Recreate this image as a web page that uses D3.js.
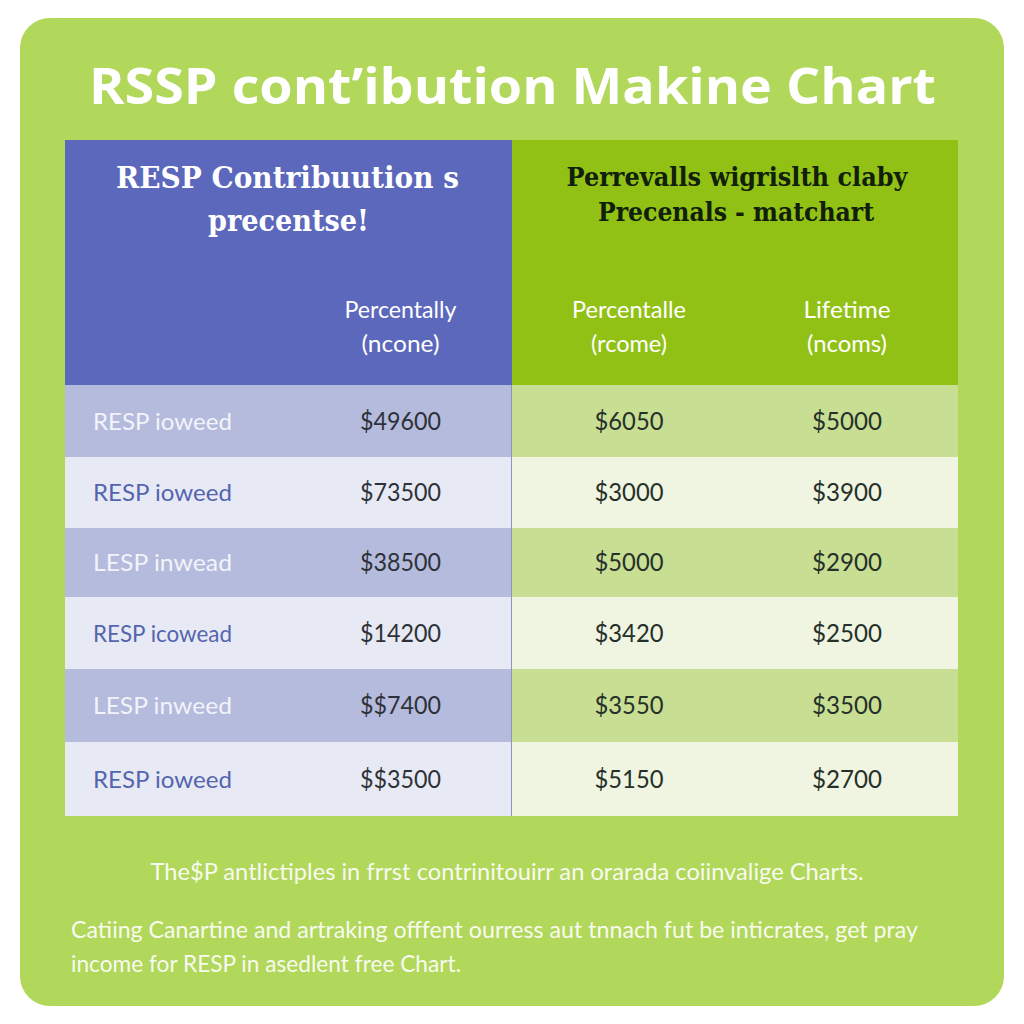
<!DOCTYPE html>
<html><head><meta charset="utf-8">
<script src="https://cdn.jsdelivr.net/npm/d3@7/dist/d3.min.js"></script>
<style>html,body{margin:0;padding:0;background:#fff}svg{display:block}</style>
</head><body><svg id="c" width="1024" height="1024"></svg>
<script>
const chartTitle = "RSSP cont\u2019ibution Makine Chart";
const leftHeader = ["RESP Contribuution s", "precentse!"];
const rightHeader = ["Perrevalls wigrislth claby", "Precenals - matchart"];
const columnKeys = ["Percentally", "Percentalle", "Lifetime"];
const columnHeads = [["Percentally", "(ncone)"], ["Percentalle", "(rcome)"], ["Lifetime", "(ncoms)"]];
const rowLabels = ["RESP ioweed", "RESP ioweed", "LESP inwead", "RESP icowead", "LESP inweed", "RESP ioweed"];
const colPercentally = ["$49600", "$73500", "$38500", "$14200", "$$7400", "$$3500"];
const colPercentalle = ["$6050", "$3000", "$5000", "$3420", "$3550", "$5150"];
const colLifetime = ["$5000", "$3900", "$2900", "$2500", "$3500", "$2700"];
const footNote = "The$P antlictiples in frrst contrinitouirr an orarada coiinvalige Charts.";
const footLines = ["Catiing Canartine and artraking offfent ourress aut tnnach fut be inticrates, get pray", "income for RESP in asedlent free Chart."];

const svg = d3.select("#c");
const body = "Lato, 'Open Sans', sans-serif";
const slab = "'DejaVu Serif', serif";
const rowIdx = d3.range(rowLabels.length);
const yTop = d3.scaleOrdinal().domain(d3.range(7)).range([385, 457, 528, 597, 669, 742, 816]);
const colX = d3.scaleOrdinal().domain(columnKeys).range([400.5, 629, 847]);

svg.append("rect").attr("x", 20).attr("y", 18).attr("width", 984).attr("height", 988).attr("rx", 30).attr("fill", "#b1d75b");

function txt(s, x, y, size, fill, family, weight, anchor, len) {
  const t = svg.append("text").attr("x", x).attr("y", y).attr("font-size", size).attr("fill", fill)
    .attr("font-family", family).attr("font-weight", weight || 400).attr("text-anchor", anchor || "middle").text(s);
  if (len) t.attr("textLength", len).attr("lengthAdjust", "spacingAndGlyphs");
  return t;
}

// title
txt(chartTitle, 512.5, 104, 50, "#ffffff", "'Open Sans', sans-serif", 700, "middle", 847);

// header blocks
svg.append("rect").attr("x", 65).attr("y", 140).attr("width", 447).attr("height", 245).attr("fill", "#5b68bb");
svg.append("rect").attr("x", 512).attr("y", 140).attr("width", 446).attr("height", 245).attr("fill", "#92c116");

txt(leftHeader[0], 287.5, 188, 29, "#ffffff", slab, 700, "middle", 343);
txt(leftHeader[1], 288.5, 231, 29, "#ffffff", slab, 700, "middle", 161);
txt(rightHeader[0], 737, 186, 26, "#10200a", slab, 700, "middle", 341);
txt(rightHeader[1], 736, 221, 26, "#10200a", slab, 700, "middle", 276);

const headWidths = [[112, 78], [114, 76], [87, 80]];
columnKeys.forEach((k, i) => {
  txt(columnHeads[i][0], colX(k), 318, 23, "#ffffff", body, 400, "middle", headWidths[i][0]);
  txt(columnHeads[i][1], colX(k), 352, 23, "#ffffff", body, 400, "middle", headWidths[i][1]);
});

// rows
const bands = svg.append("g");
rowIdx.forEach(i => {
  const y0 = yTop(i), y1 = yTop(i + 1), odd = i % 2 === 0;
  bands.append("rect").attr("x", 65).attr("y", y0).attr("width", 447).attr("height", y1 - y0).attr("fill", odd ? "#b5bbdc" : "#e7eaf4");
  bands.append("rect").attr("x", 512).attr("y", y0).attr("width", 446).attr("height", y1 - y0).attr("fill", odd ? "#c8df93" : "#eff5e0");
  const by = (y0 + y1) / 2 + 8.5;
  txt(rowLabels[i], 93, by, 23.5, odd ? "#f2f4fb" : "#5464ae", body, 400, "start", 139);
  txt(colPercentally[i], colX("Percentally"), by, 24.5, "#2e3238", body, 400, "middle", 81);
  txt(colPercentalle[i], colX("Percentalle"), by, 24.5, "#26302a", body, 400, "middle", 69);
  txt(colLifetime[i], colX("Lifetime"), by, 24.5, "#26302a", body, 400, "middle", 70);
});
svg.append("line").attr("x1", 511.5).attr("x2", 511.5).attr("y1", 385).attr("y2", 816).attr("stroke", "#8f95b8").attr("stroke-width", 1);

// footer
txt(footNote, 507, 880, 23, "#f8fbef", body, 400, "middle", 713);
txt(footLines[0], 71, 938, 23, "#f8fbef", body, 400, "start", 847);
txt(footLines[1], 71, 972, 23, "#f8fbef", body, 400, "start", 390);
</script></body></html>
